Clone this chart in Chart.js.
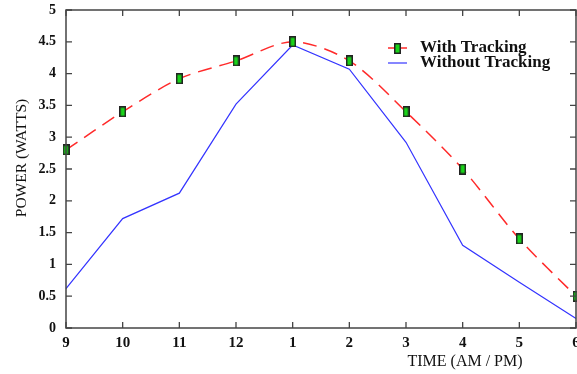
<!DOCTYPE html>
<html>
<head>
<meta charset="utf-8">
<script src="https://cdn.jsdelivr.net/npm/chart.js@4/dist/chart.umd.min.js"></script>
<style>
  html, body { margin: 0; padding: 0; background: #fff; }
  #wrap { width: 577px; height: 374px; }
</style>
</head>
<body>
<div id="wrap"><canvas id="myChart" width="577" height="374"></canvas></div>
<script>
// values
const times = ['9', '10', '11', '12', '1', '2', '3', '4', '5', '6'];
const withTracking = [2.8, 3.4, 3.92, 4.2, 4.5, 4.2, 3.4, 2.5, 1.4, 0.5];
const withoutTracking = [0.62, 1.72, 2.12, 3.52, 4.45, 4.07, 2.92, 1.3, 0.72, 0.15];
const yTicks = [0, 0.5, 1, 1.5, 2, 2.5, 3, 3.5, 4, 4.5, 5];

const serif = '"Liberation Serif", "DejaVu Serif", serif';

// small green bar marker
const marker = document.createElement('canvas');
marker.width = 7; marker.height = 11;
(function () {
  const m = marker.getContext('2d');
  m.fillStyle = '#222';
  m.fillRect(0, 0, 7, 11);
  m.fillStyle = '#19d419';
  m.fillRect(1.5, 1.5, 4, 8);
})();

// box around the plot with inward ticks, legend and axis titles
const framePlugin = {
  id: 'frame',
  afterDatasetsDraw(chart) {
    const {ctx, chartArea: a, scales} = chart;
    ctx.save();
    ctx.strokeStyle = '#444';
    ctx.lineWidth = 1.5;
    ctx.strokeRect(a.left, a.top, a.right - a.left, a.bottom - a.top);
    ctx.lineWidth = 1.3;
    ctx.beginPath();
    scales.x.ticks.forEach((t, i) => {
      const px = scales.x.getPixelForTick(i);
      ctx.moveTo(px, a.bottom); ctx.lineTo(px, a.bottom - 6);
      ctx.moveTo(px, a.top); ctx.lineTo(px, a.top + 6);
    });
    scales.y.ticks.forEach((t, i) => {
      const py = scales.y.getPixelForTick(i);
      ctx.moveTo(a.left, py); ctx.lineTo(a.left + 6, py);
      ctx.moveTo(a.right, py); ctx.lineTo(a.right - 6, py);
    });
    ctx.stroke();

    // legend
    const lx = 388, ly = 48;
    chart.data.datasets.forEach((ds, i) => {
      const y = ly + i * 15;
      ctx.strokeStyle = ds.borderColor;
      ctx.lineWidth = ds.borderWidth;
      ctx.setLineDash([]);
      ctx.beginPath();
      ctx.moveTo(lx, y); ctx.lineTo(lx + 19, y);
      ctx.stroke();
      if (i === 0) ctx.drawImage(marker, lx + 6, y - 5);
      ctx.fillStyle = '#111';
      ctx.font = 'bold 17px ' + serif;
      ctx.textBaseline = 'middle';
      ctx.textAlign = 'left';
      ctx.fillText(ds.label, lx + 32, y);
    });

    // axis titles
    ctx.font = '16px ' + serif;
    ctx.fillStyle = '#111';
    ctx.textAlign = 'center';
    ctx.textBaseline = 'middle';
    ctx.fillText('TIME (AM / PM)', 465, 362);
    ctx.save();
    ctx.translate(22, 158);
    ctx.rotate(-Math.PI / 2);
    ctx.font = '15.5px ' + serif;
    ctx.fillText('POWER (WATTS)', 0, 0);
    ctx.restore();
    ctx.restore();
  }
};

new Chart(document.getElementById('myChart'), {
  type: 'line',
  data: {
    labels: times,
    datasets: [{
      label: 'With Tracking',
      data: withTracking,
      borderColor: '#ff2a2a',
      borderWidth: 1.5,
      borderDash: [14, 8],
      tension: 0.3,
      pointStyle: marker,
      pointRadius: 5,
      pointHoverRadius: 5
    }, {
      label: 'Without Tracking',
      data: withoutTracking,
      borderColor: '#3434ff',
      borderWidth: 1.2,
      tension: 0,
      pointRadius: 0
    }]
  },
  options: {
    responsive: false,
    animation: false,
    layout: { autoPadding: false, padding: { top: 10, right: 1, left: 0, bottom: 0 } },
    plugins: {
      legend: { display: false },
      tooltip: { enabled: false }
    },
    scales: {
      x: {
        offset: false,
        grid: { display: false, drawTicks: false },
        border: { display: false },
        ticks: {
          color: '#111',
          font: { family: serif, size: 15, weight: 'bold' },
          padding: 6,
          maxRotation: 0,
          autoSkip: false
        },
        afterFit(scale) {
          scale.height = 46;
          scale.paddingLeft = 0;
          scale.paddingRight = 0;
        }
      },
      y: {
        min: 0,
        max: 5,
        afterBuildTicks(scale) {
          scale.ticks = yTicks.map(v => ({ value: v }));
        },
        grid: { display: false, drawTicks: false },
        border: { display: false },
        ticks: {
          color: '#111',
          font: { family: serif, size: 14, weight: 'bold' },
          padding: 10,
          callback: v => String(v)
        },
        afterFit(scale) {
          scale.width = 66;
          scale.paddingTop = 0;
          scale.paddingBottom = 0;
        }
      }
    }
  },
  plugins: [framePlugin]
});
</script>
</body>
</html>
